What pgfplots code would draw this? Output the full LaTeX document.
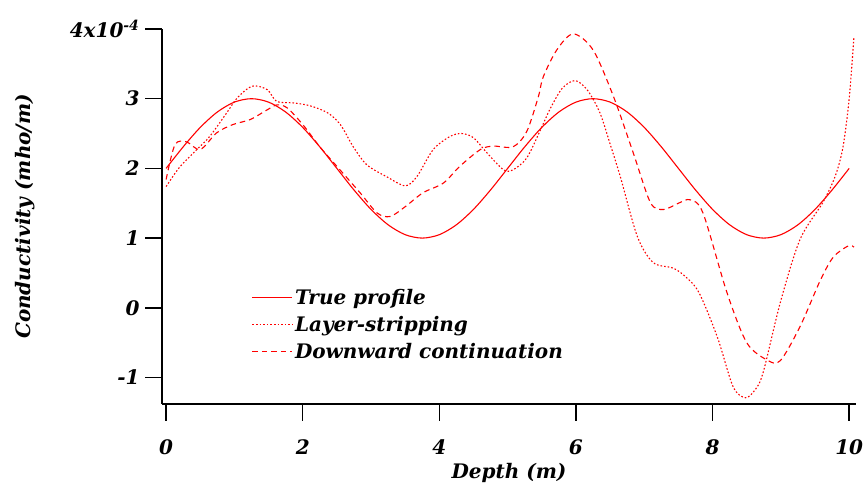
\documentclass[border=0pt]{standalone}
\usepackage{pgfplots}
\pgfplotsset{compat=1.18}
\usepackage{fontspec}
\setmainfont{DejaVu Serif}
\begin{document}
\begin{tikzpicture}[x=1bp,y=1bp]
\path[use as bounding box] (-162,-84) rectangle (702,404);
\begin{axis}[
  at={(0,0)}, anchor=south west,
  scale only axis,
  width=694bp, height=375bp,
  xmin=-0.06, xmax=10.1,
  ymin=-1.38, ymax=4,
  axis x line*=bottom, axis y line*=left,
  axis line style={line width=1.6bp, -},
  tick align=outside,
  major tick length=17bp,
  tick style={line width=1.5bp, black},
  xtick={0,2,4,6,8,10},
  ytick={-1,0,1,2,3,4},
  yticklabels={-1,0,1,2,3,{4x10\textsuperscript{-4}}},
  /pgf/number format/assume math mode=true,
  tick label style={font=\fontsize{20bp}{22bp}\selectfont\bfseries\itshape},
  xticklabel style={yshift=-15bp},
  yticklabel style={xshift=-2bp},
  label style={font=\fontsize{20bp}{22bp}\selectfont\bfseries\itshape},
  xlabel={Depth (m)},
  ylabel={Conductivity (mho/m)},
  xlabel style={at={(axis description cs:0.5,-0.183)}, anchor=center},
  ylabel style={at={(axis description cs:-0.197,0.5)}, anchor=center},
  clip=false,
  legend style={at={(0.125,0.318)}, anchor=north west, draw=none, fill=none,
    font=\fontsize{20bp}{22bp}\selectfont\bfseries\itshape,
    row sep=6.5bp},
  legend cell align=left,
  legend image code/.code={\draw[#1, red, line width=1.1bp] (0bp,0bp) -- (40bp,0bp);},
]
\addplot[red, line width=1.1bp, smooth] coordinates {
(0,2) (0.25,2.309) (0.5,2.588) (0.75,2.809) (1,2.951) (1.25,3) (1.5,2.951) (1.75,2.809) (2,2.588) (2.25,2.309)
(2.5,2) (2.75,1.691) (3,1.412) (3.25,1.191) (3.5,1.049) (3.75,1) (4,1.049) (4.25,1.191) (4.5,1.412) (4.75,1.691)
(5,2) (5.25,2.309) (5.5,2.588) (5.75,2.809) (6,2.951) (6.25,3) (6.5,2.951) (6.75,2.809) (7,2.588) (7.25,2.309)
(7.5,2) (7.75,1.691) (8,1.412) (8.25,1.191) (8.5,1.049) (8.75,1) (9,1.049) (9.25,1.191) (9.5,1.412) (9.75,1.691) (10,2)
};
\addlegendentry{True profile}
\addplot[red, line width=1.1bp, smooth, dash pattern=on 1.6bp off 2bp] coordinates {
(0,1.74) (0.2,2.02) (0.45,2.27) (0.64,2.46) (0.89,2.8) (1.04,3.01) (1.26,3.18) (1.48,3.13) (1.62,2.96)
(1.86,2.94) (2.1,2.9) (2.36,2.8) (2.55,2.63) (2.74,2.31) (2.94,2.05) (3.23,1.88) (3.5,1.75) (3.67,1.88)
(3.91,2.27) (4.16,2.46) (4.33,2.5) (4.5,2.44) (4.7,2.22) (4.94,1.98) (5.08,1.98) (5.28,2.15) (5.48,2.55)
(5.62,2.85) (5.8,3.15) (5.99,3.26) (6.17,3.12) (6.35,2.8) (6.5,2.35) (6.65,1.88) (6.9,1.02) (7.13,0.65)
(7.42,0.57) (7.6,0.45) (7.8,0.22) (8.07,-0.42) (8.3,-1.13) (8.48,-1.29) (8.62,-1.18) (8.74,-0.93)
(8.99,0.07) (9.28,0.98) (9.62,1.52) (9.8,1.9) (9.91,2.31) (10.0,3.0) (10.07,3.89)
};
\addlegendentry{Layer-stripping}
\addplot[red, line width=1.1bp, smooth, dash pattern=on 5.5bp off 4bp] coordinates {
(0,1.84) (0.13,2.34) (0.3,2.38) (0.5,2.27) (0.74,2.51) (0.98,2.63) (1.23,2.7) (1.48,2.84) (1.62,2.91)
(1.77,2.87) (2.0,2.63) (2.25,2.31) (2.5,2.03) (2.84,1.65) (3.09,1.36) (3.28,1.31) (3.5,1.45) (3.76,1.65)
(4.06,1.79) (4.3,2.03) (4.6,2.27) (4.79,2.32) (5.08,2.31) (5.28,2.53) (5.45,3.03) (5.52,3.31) (5.72,3.70)
(5.96,3.93) (6.25,3.70) (6.55,3.03) (6.84,2.22) (7.09,1.51) (7.28,1.41) (7.5,1.5) (7.67,1.55) (7.86,1.36)
(8.21,0.22) (8.5,-0.5) (8.8,-0.75) (8.99,-0.76) (9.28,-0.27) (9.58,0.4) (9.77,0.73) (9.99,0.89) (10.07,0.87)
};
\addlegendentry{Downward continuation}
\end{axis}
\end{tikzpicture}
\end{document}
